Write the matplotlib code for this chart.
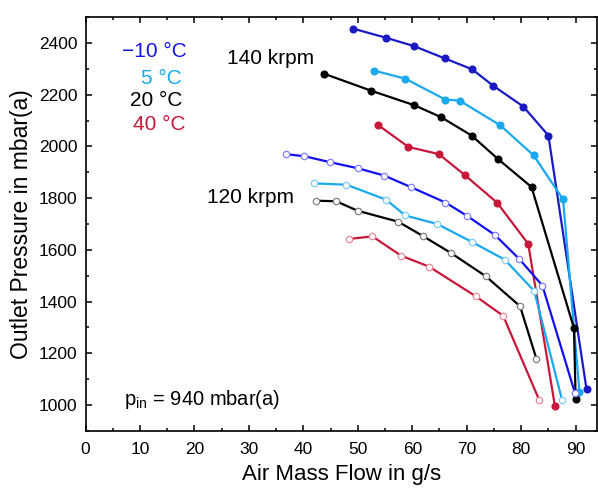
"""
Compressor map: outlet pressure vs air mass flow at 120/140 krpm
"""
import matplotlib
matplotlib.use("Agg")
import matplotlib.pyplot as plt
from matplotlib.ticker import MultipleLocator

plt.rcParams['font.family'] = ['Liberation Sans', 'DejaVu Sans']

# 140 krpm (filled markers)
flow_140_m10 = [49.2, 55.2, 60.3, 66.0, 71.0, 74.9, 80.4, 85.0, 92.0]
pres_140_m10 = [2455, 2420, 2388, 2340, 2298, 2234, 2154, 2042, 1061]
flow_140_5 = [53.0, 58.7, 66.1, 68.7, 76.2, 82.3, 87.7, 90.7]
pres_140_5 = [2293, 2262, 2181, 2177, 2081, 1965, 1795, 1051]
flow_140_20 = [43.8, 52.5, 60.4, 65.3, 70.9, 75.7, 81.9, 89.7, 90.0]
pres_140_20 = [2281, 2215, 2159, 2113, 2042, 1952, 1843, 1297, 1024]
flow_140_40 = [53.7, 59.3, 64.9, 69.6, 75.6, 81.3, 86.2]
pres_140_40 = [2083, 1998, 1970, 1890, 1782, 1623, 996]

# 120 krpm (open markers)
flow_120_m10 = [36.8, 40.2, 44.9, 50.1, 54.9, 59.7, 66.1, 70.1, 75.2, 79.6, 83.9, 89.9]
pres_120_m10 = [1970, 1962, 1939, 1915, 1887, 1843, 1783, 1731, 1657, 1566, 1462, 1045]
flow_120_5 = [41.9, 47.9, 55.2, 58.7, 64.6, 71.0, 77.0, 82.4, 87.5]
pres_120_5 = [1857, 1852, 1794, 1733, 1700, 1630, 1562, 1441, 1020]
flow_120_20 = [42.3, 46.0, 50.0, 57.4, 62.0, 67.1, 73.5, 79.8, 82.8]
pres_120_20 = [1790, 1788, 1751, 1709, 1653, 1588, 1498, 1382, 1179]
flow_120_40 = [48.3, 52.7, 57.9, 63.1, 71.7, 76.7, 83.3]
pres_120_40 = [1642, 1652, 1578, 1535, 1420, 1345, 1020]

temp_labels = ['\u221210 \u00b0C', '5 \u00b0C', '20 \u00b0C', '40 \u00b0C']
temp_colors = ['#1414e6', '#1aa8f0', '#000000', '#c8183a']

fig = plt.figure(figsize=(5.98, 4.88), dpi=100)
ax = fig.add_axes([0.143, 0.117, 0.856, 0.848])

filled = [
    (flow_140_m10, pres_140_m10, '#1a1ac4'),
    (flow_140_5, pres_140_5, '#1aa8f0'),
    (flow_140_20, pres_140_20, '#000000'),
    (flow_140_40, pres_140_40, '#c8183a'),
]
for x, y, c in filled:
    ax.plot(x, y, '-o', color=c, lw=1.6, ms=4.8, mec=c, mfc=c)

hollow = [
    (flow_120_m10, pres_120_m10, '#1010f0', '#8080ff'),
    (flow_120_5, pres_120_5, '#1aa8f0', '#7fcdf5'),
    (flow_120_20, pres_120_20, '#000000', '#808080'),
    (flow_120_40, pres_120_40, '#c8183a', '#e88a9c'),
]
for x, y, c, ec in hollow:
    ax.plot(x, y, '-o', color=c, lw=1.6, ms=4.6, mec=ec, mfc='white', mew=0.9)

ax.set_xlim(0, 94)
ax.set_ylim(900, 2500)
ax.xaxis.set_major_locator(MultipleLocator(10))
ax.xaxis.set_minor_locator(MultipleLocator(5))
ax.yaxis.set_major_locator(MultipleLocator(200))
ax.yaxis.set_minor_locator(MultipleLocator(100))
ax.tick_params(which='both', direction='in', top=True, right=True, width=1.1)
ax.tick_params(which='major', length=4.5, labelsize=12.5, pad=6)
ax.tick_params(axis='x', which='major', pad=8)
ax.tick_params(which='minor', length=2.5)
for s in ax.spines.values():
    s.set_linewidth(1.2)

ax.set_xlabel('Air Mass Flow in g/s', fontsize=16, labelpad=5)
ax.set_ylabel('Outlet Pressure in mbar(a)', fontsize=16.5, labelpad=4)

# temperature legend as coloured text
legend_x = [12.7, 14.0, 12.95, 13.5]
legend_y = [2347, 2242, 2155, 2065]
for t, c, lx, ly in zip(temp_labels, temp_colors, legend_x, legend_y):
    ax.text(lx, ly, t, color=c, fontsize=15, ha='center', va='baseline')

ax.text(25.9, 2319, '140 krpm', fontsize=15, ha='left', va='baseline')
ax.text(22.3, 1782, '120 krpm', fontsize=15, ha='left', va='baseline')
ax.text(7.1, 1000, r'p$_{\mathregular{in}}$ = 940 mbar(a)', fontsize=14.5,
        ha='left', va='baseline')

plt.savefig('out.png', dpi=100)
plt.close()
